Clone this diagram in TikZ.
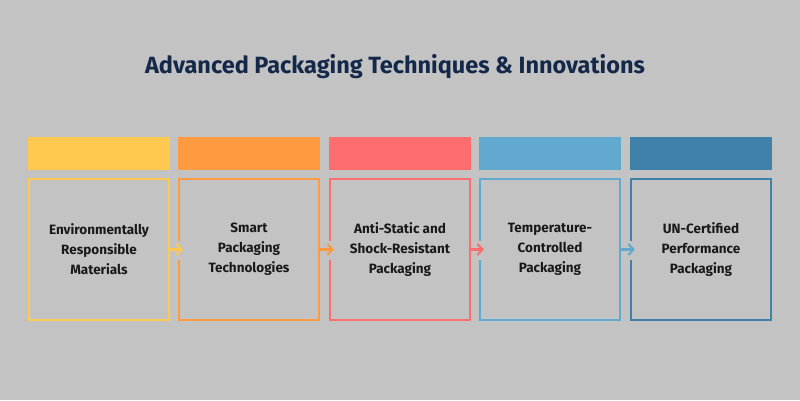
\documentclass[tikz,border=0pt]{standalone}
\usepackage{fontspec}
\setmainfont{Fira Sans}
\usetikzlibrary{arrows.meta}
\definecolor{bg}{HTML}{C3C3C3}
\definecolor{ttl}{HTML}{14284A}
\definecolor{c1}{HTML}{FFC84E}
\definecolor{c2}{HTML}{FF9A40}
\definecolor{c3}{HTML}{FF6E6E}
\definecolor{c4}{HTML}{62A9CF}
\definecolor{c5}{HTML}{3F81A8}
\begin{document}
\begin{tikzpicture}[x=1pt,y=-1pt,
  bar/.style={fill=#1,draw=none,minimum width=142pt,minimum height=33pt,inner sep=0pt},
  box/.style={draw=#1,line width=2.2pt,minimum width=140pt,minimum height=141pt,inner sep=0pt,align=center,font=\fontsize{13.5}{20}\selectfont\bfseries,text=black!90},
  conn/.style={draw=#1,line width=2.2pt,-{Straight Barb[length=5pt,width=11pt]}}]
\fill[bg] (0,0) rectangle (800,400);
\useasboundingbox (0,0) rectangle (800,400);
\node[font=\fontsize{23.5}{28}\selectfont\bfseries,text=ttl] (title) at (395,67) {Advanced Packaging Techniques \& Innovations};
\foreach \i/\x/\c/\t in {1/99/c1/{Environmentally\\Responsible\\Materials},2/249/c2/{Smart\\Packaging\\Technologies},3/400/c3/{Anti-Static and\\Shock-Resistant\\Packaging},4/550/c4/{Temperature-\\Controlled\\Packaging},5/701/c5/{UN-Certified\\Performance\\Packaging}}{
  \node[bar=\c] (bar\i) at (\x,153.5) {};
  \node[box=\c] (b\i) at (\x,249.5) {\t};
}
\foreach \a/\b/\c in {1/2/c1,2/3/c2,3/4/c3,4/5/c4}{
  \fill[bg] ([yshift=-10pt,xshift=-2pt]b\b.west) rectangle ([yshift=9pt,xshift=2pt]b\b.west);
  \draw[conn=\c] (b\a.east) -- ([xshift=5pt]b\b.west);
}
\end{tikzpicture}
\end{document}
